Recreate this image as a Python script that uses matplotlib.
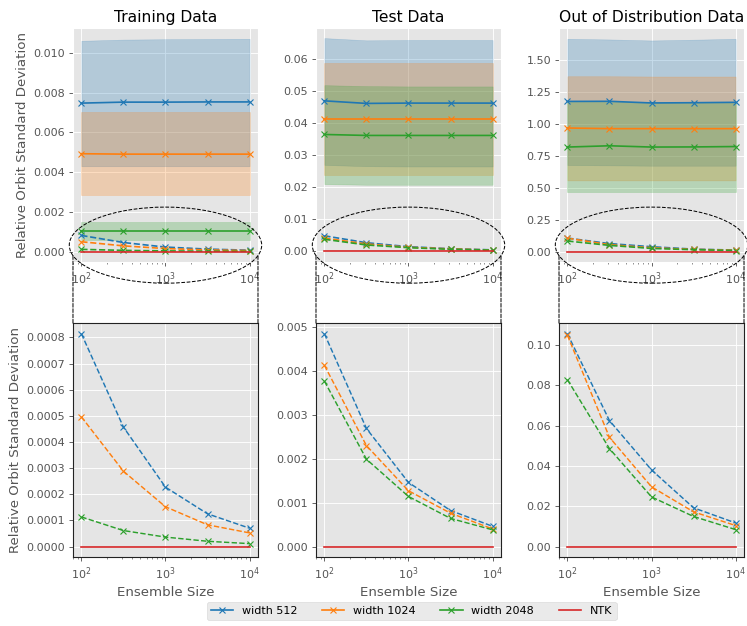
import numpy as np
import matplotlib
matplotlib.use("Agg")
import matplotlib.pyplot as plt
from matplotlib.patches import Ellipse, ConnectionPatch

plt.style.use("ggplot")

# ensemble sizes (x axis)
ens_size = [100, 316, 1000, 3162, 10000]
widths = ["width 512", "width 1024", "width 2048"]
colors = ["#1f77b4", "#ff7f0e", "#2ca02c"]
ntk_color = "#d62728"
titles = ["Training Data", "Test Data", "Out of Distribution Data"]

# --- Training data ---
train_mean = [
    [0.00748, 0.00753, 0.00753, 0.00754, 0.00754],
    [0.00493, 0.00491, 0.00491, 0.00491, 0.00491],
    [0.00102, 0.00102, 0.00102, 0.00102, 0.00102],
]
train_lo = [
    [0.00430, 0.00430, 0.00430, 0.00430, 0.00430],
    [0.00284, 0.00284, 0.00284, 0.00284, 0.00284],
    [0.00060, 0.00060, 0.00060, 0.00060, 0.00060],
]
train_hi = [
    [0.01062, 0.01068, 0.01070, 0.01071, 0.01072],
    [0.00704, 0.00704, 0.00704, 0.00704, 0.00704],
    [0.00147, 0.00147, 0.00147, 0.00147, 0.00147],
]
train_ens = [
    [0.000814, 0.000457, 0.000227, 0.000125, 0.000070],
    [0.000496, 0.000288, 0.000152, 0.000083, 0.000052],
    [0.000113, 0.000061, 0.000036, 0.000020, 0.000011],
]

# --- Test data ---
test_mean = [
    [0.0470, 0.0462, 0.0463, 0.0463, 0.0463],
    [0.0412, 0.0412, 0.0412, 0.0412, 0.0412],
    [0.0365, 0.0362, 0.0362, 0.0362, 0.0362],
]
test_lo = [
    [0.0270, 0.0266, 0.0265, 0.0265, 0.0265],
    [0.0237, 0.0237, 0.0237, 0.0237, 0.0237],
    [0.0210, 0.0208, 0.0208, 0.0208, 0.0208],
]
test_hi = [
    [0.0666, 0.0659, 0.0660, 0.0660, 0.0660],
    [0.0587, 0.0587, 0.0587, 0.0587, 0.0587],
    [0.0519, 0.0516, 0.0515, 0.0515, 0.0515],
]
test_ens = [
    [0.00485, 0.00269, 0.00146, 0.00082, 0.00046],
    [0.00413, 0.00230, 0.00127, 0.00076, 0.00040],
    [0.00377, 0.00199, 0.00114, 0.00064, 0.00038],
]

# --- Out of distribution data ---
ood_mean = [
    [1.175, 1.176, 1.163, 1.165, 1.168],
    [0.967, 0.962, 0.962, 0.962, 0.962],
    [0.818, 0.828, 0.818, 0.819, 0.822],
]
ood_lo = [
    [0.677, 0.675, 0.672, 0.672, 0.672],
    [0.557, 0.557, 0.557, 0.557, 0.557],
    [0.470, 0.470, 0.470, 0.470, 0.470],
]
ood_hi = [
    [1.665, 1.660, 1.652, 1.658, 1.665],
    [1.372, 1.372, 1.370, 1.370, 1.370],
    [1.170, 1.170, 1.170, 1.170, 1.170],
]
ood_ens = [
    [0.1056, 0.0625, 0.0380, 0.0192, 0.0117],
    [0.1048, 0.0542, 0.0296, 0.0172, 0.0104],
    [0.0828, 0.0486, 0.0246, 0.0149, 0.0084],
]

ntk = [0.0, 0.0, 0.0, 0.0, 0.0]

panels = [
    (train_mean, train_lo, train_hi, train_ens),
    (test_mean, test_lo, test_hi, test_ens),
    (ood_mean, ood_lo, ood_hi, ood_ens),
]

fig, axes = plt.subplots(2, 3, figsize=(747 / 80, 626 / 80), dpi=80)
fig.subplots_adjust(left=0.0977, right=0.996, bottom=0.110, top=0.955,
                    wspace=0.3135, hspace=0.26)

# ellipse in axes coords of the top panels
ecx, ecy, ew, eh = 0.5, 0.073, 1.04, 0.325

for j, (mean, lo, hi, ens) in enumerate(panels):
    top = axes[0, j]
    bot = axes[1, j]
    for i in range(3):
        top.fill_between(ens_size, lo[i], hi[i], color=colors[i], alpha=0.25)
        top.plot(ens_size, mean[i], "-x", color=colors[i], label=widths[i])
        top.plot(ens_size, ens[i], "--x", color=colors[i])
        bot.plot(ens_size, ens[i], "--x", color=colors[i], lw=1.3)
    top.plot(ens_size, ntk, color=ntk_color, label="NTK")
    bot.plot(ens_size, ntk, color=ntk_color)

    for ax in (top, bot):
        ax.set_xscale("log")
    top.set_title(titles[j], color="black", fontsize=14)
    bot.set_xlabel("Ensemble Size")
    for sp in bot.spines.values():
        sp.set_visible(True)
        sp.set_color("#222222")
        sp.set_linewidth(1.0)

    ell = Ellipse((ecx, ecy), ew, eh, transform=top.transAxes, fill=False,
                  ls="--", lw=0.9, ec="black", clip_on=False, zorder=10)
    top.add_patch(ell)
    for xa in (0.0, 1.0):
        dy = eh / 2 * np.sqrt(max(0.0, 1 - ((xa - ecx) / (ew / 2)) ** 2))
        con = ConnectionPatch(xyA=(xa, 1.0), coordsA=bot.transAxes,
                              xyB=(xa, ecy - dy), coordsB=top.transAxes,
                              ls="--", lw=0.9, color="black")
        fig.add_artist(con)

axes[0, 1].set_ylim(-0.0034, 0.0697)

axes[0, 0].set_ylabel("Relative Orbit Standard Deviation")
axes[1, 0].set_ylabel("Relative Orbit Standard Deviation")

handles, labels = axes[0, 0].get_legend_handles_labels()
fig.legend(handles, labels, loc="lower center", bbox_to_anchor=(0.551, 0.0),
           ncol=4, fontsize=10, columnspacing=2.2)

fig.savefig("out.png", dpi=80)
